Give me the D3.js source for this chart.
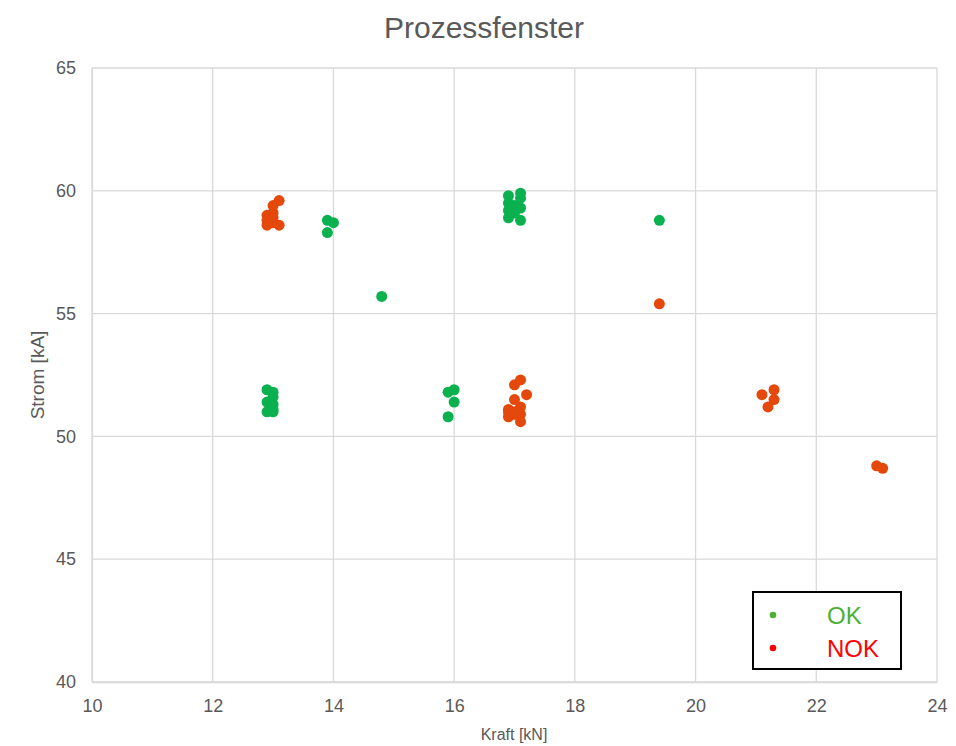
<!DOCTYPE html>
<html><head><meta charset="utf-8">
<script src="https://cdn.jsdelivr.net/npm/d3@7"></script>
<style>body{margin:0;background:#fff;}svg{display:block;font-family:"Liberation Sans",Arial,sans-serif;}</style>
</head><body>
<script>
const xTicks=[10,12,14,16,18,20,22,24];
const yTicks=[40,45,50,55,60,65];
const okX=[13.9,14.0,13.9,14.8,16.9,17.1,17.1,16.9,17.0,17.1,16.9,17.0,16.9,17.1,19.4,12.9,13.0,13.0,12.9,13.0,12.9,13.0,13.0,15.9,16.0,16.0,15.9];
const okY=[58.8,58.7,58.3,55.7,59.8,59.9,59.7,59.5,59.4,59.3,59.2,59.1,58.9,58.8,58.8,51.9,51.8,51.6,51.4,51.3,51.0,51.0,51.1,51.8,51.9,51.4,50.8];
const nokX=[13.1,13.0,12.9,13.0,12.9,12.9,13.0,13.1,13.0,19.4,17.1,17.0,17.2,17.0,16.9,17.1,16.9,17.0,17.1,17.1,17.0,16.9,21.1,21.3,21.3,21.2,23.0,23.1];
const nokY=[59.6,59.4,59.0,59.1,58.8,58.6,58.7,58.6,58.9,55.4,52.3,52.1,51.7,51.5,51.1,51.2,50.8,50.9,50.6,50.9,51.0,51.0,51.7,51.9,51.5,51.2,48.8,48.7];
const seriesNames=["OK","NOK"];

const W=956,H=746;
const svg=d3.select("body").append("svg").attr("width",W).attr("height",H);
const x=d3.scaleLinear().domain([10,24]).range([92,937]);
const y=d3.scaleLinear().domain([40,65]).range([682,68]);
const grid="#d9d9d9", txt="#595959";
const ff="Liberation Sans, Arial, sans-serif";

svg.append("g").selectAll("line").data(xTicks).join("line")
 .attr("x1",d=>x(d)).attr("x2",d=>x(d)).attr("y1",y(65)).attr("y2",y(40))
 .attr("stroke",grid).attr("stroke-width",1.3);
svg.append("g").selectAll("line").data(yTicks).join("line")
 .attr("x1",x(10)).attr("x2",x(24)).attr("y1",d=>y(d)).attr("y2",d=>y(d))
 .attr("stroke",grid).attr("stroke-width",1.3);

const xa=svg.append("g").attr("transform",`translate(0,${y(40)})`)
 .call(d3.axisBottom(x).tickValues(xTicks).tickSize(0).tickPadding(17));
xa.select(".domain").attr("stroke",grid).attr("stroke-width",1.3);
xa.selectAll("text").attr("fill",txt).attr("font-size",18).attr("font-family",ff);
const ya=svg.append("g").attr("transform",`translate(${x(10)},0)`)
 .call(d3.axisLeft(y).tickValues(yTicks).tickSize(0).tickPadding(16));
ya.select(".domain").attr("stroke",grid).attr("stroke-width",1.3);
ya.selectAll("text").attr("fill",txt).attr("font-size",18).attr("font-family",ff);

svg.append("text").attr("x",484).attr("y",38).attr("text-anchor","middle")
 .attr("font-size",30).attr("fill",txt).text("Prozessfenster");
svg.append("text").attr("x",514).attr("y",740).attr("text-anchor","middle")
 .attr("font-size",16).attr("fill",txt).text("Kraft [kN]");
svg.append("text").attr("transform","translate(44,375) rotate(-90)").attr("text-anchor","middle")
 .attr("font-size",19).attr("fill",txt).text("Strom [kA]");

const okData=okX.map((v,i)=>[v,okY[i]]);
const nokData=nokX.map((v,i)=>[v,nokY[i]]);
svg.append("g").selectAll("circle").data(okData).join("circle")
 .attr("cx",d=>x(d[0])).attr("cy",d=>y(d[1])).attr("r",5.5).attr("fill","#0bb04f");
svg.append("g").selectAll("circle").data(nokData).join("circle")
 .attr("cx",d=>x(d[0])).attr("cy",d=>y(d[1])).attr("r",5.5).attr("fill","#e5480b");

const lg=svg.append("g");
lg.append("rect").attr("x",753).attr("y",592).attr("width",148).attr("height",77)
 .attr("fill","#fff").attr("stroke","#000").attr("stroke-width",2);
const lcol=["#4cb034","#ff0000"];
seriesNames.forEach((n,i)=>{
  lg.append("circle").attr("cx",773).attr("cy",615+i*33).attr("r",3.3).attr("fill",lcol[i]);
  lg.append("text").attr("x",827).attr("y",624+i*33).attr("text-anchor","start")
   .attr("font-size",24).attr("fill",lcol[i]).text(n);
});
</script>
</body></html>
